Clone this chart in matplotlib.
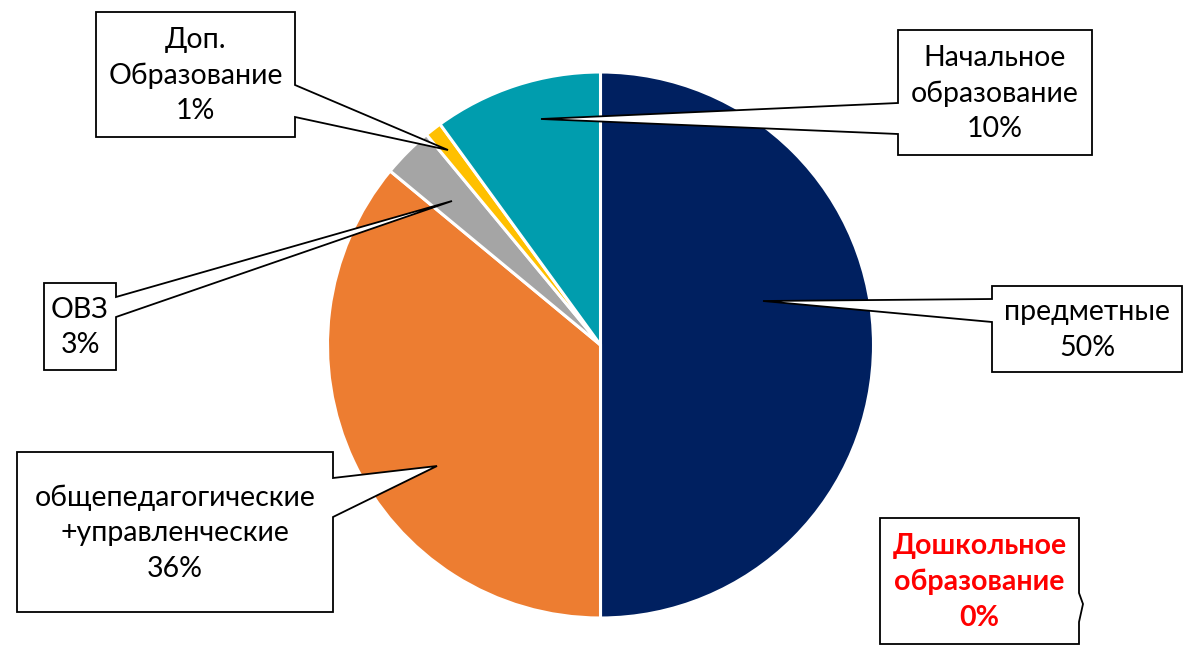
import matplotlib
matplotlib.use("Agg")
import matplotlib.pyplot as plt
from matplotlib.patches import Polygon

# ---- data ----
categories = ["предметные", "Дошкольное образование", "общепедагогические +управленческие",
              "ОВЗ", "Доп. Образование", "Начальное образование"]
values = [50, 0, 36, 3, 1, 10]
label_texts = ["предметные\n50%", "Дошкольное\nобразование\n0%",
               "общепедагогические\n+управленческие\n36%", "ОВЗ\n3%",
               "Доп.\nОбразование\n1%", "Начальное\nобразование\n10%"]
colors = ["#002060", "#FFFFFF", "#ED7D31", "#A5A5A5", "#FFC000", "#009DAE"]

W, H = 1191, 663
fig = plt.figure(figsize=(W / 100, H / 100), dpi=100)
ax = fig.add_axes([0, 0, 1, 1])

CX, CY, R = 600.5, 345, 273
ax.pie(values, colors=colors, startangle=90, counterclock=False,
       radius=1.0, center=(0, 0),
       wedgeprops=dict(edgecolor="white", linewidth=2.2))
ax.set_xlim(-CX / R, (W - CX) / R)
ax.set_ylim(-(H - CY) / R, CY / R)
ax.set_aspect("auto")
ax.axis("off")


def P(px, py):
    return (px / W, 1 - py / H)


# callout layout (pixel coords): box (x0,y0,x1,y1), side, base pair, tip
callouts = [
    dict(box=(992, 286, 1182, 372), side="left", base=(299, 322), tip=(763, 301)),
    dict(box=(880, 518, 1079, 644), side="right", base=(593, 622), tip=(1083, 604)),
    dict(box=(17, 452, 333, 612), side="right", base=(478, 517), tip=(437, 466)),
    dict(box=(44, 283, 116, 370), side="right", base=(297, 317), tip=(452, 201)),
    dict(box=(96, 12, 295, 137), side="right", base=(85, 117), tip=(448, 150)),
    dict(box=(898, 30, 1092, 155), side="left", base=(103, 134), tip=(541, 119)),
]

for i, c in enumerate(callouts):
    x0, y0, x1, y1 = c["box"]
    b1, b2 = c["base"]
    tx, ty = c["tip"]
    if c["side"] == "left":
        pts = [(x0, y0), (x1, y0), (x1, y1), (x0, y1), (x0, b2), (tx, ty), (x0, b1)]
    else:
        pts = [(x0, y0), (x1, y0), (x1, b1), (tx, ty), (x1, b2), (x1, y1), (x0, y1)]
    poly = Polygon([P(*p) for p in pts], closed=True, transform=fig.transFigure,
                   facecolor="white", edgecolor="black", linewidth=1.3, zorder=5,
                   joinstyle="miter")
    fig.patches.append(poly)
    is_red = i == 1
    fig.text(*P((x0 + x1) / 2, (y0 + y1) / 2 + 1), label_texts[i],
             ha="center", va="center", multialignment="center",
             fontsize=20.5, family="Lato", linespacing=1.45,
             color="#FF0000" if is_red else "black",
             fontweight="bold" if is_red else "normal", zorder=6)

fig.savefig("out.png", dpi=100, facecolor="white")
